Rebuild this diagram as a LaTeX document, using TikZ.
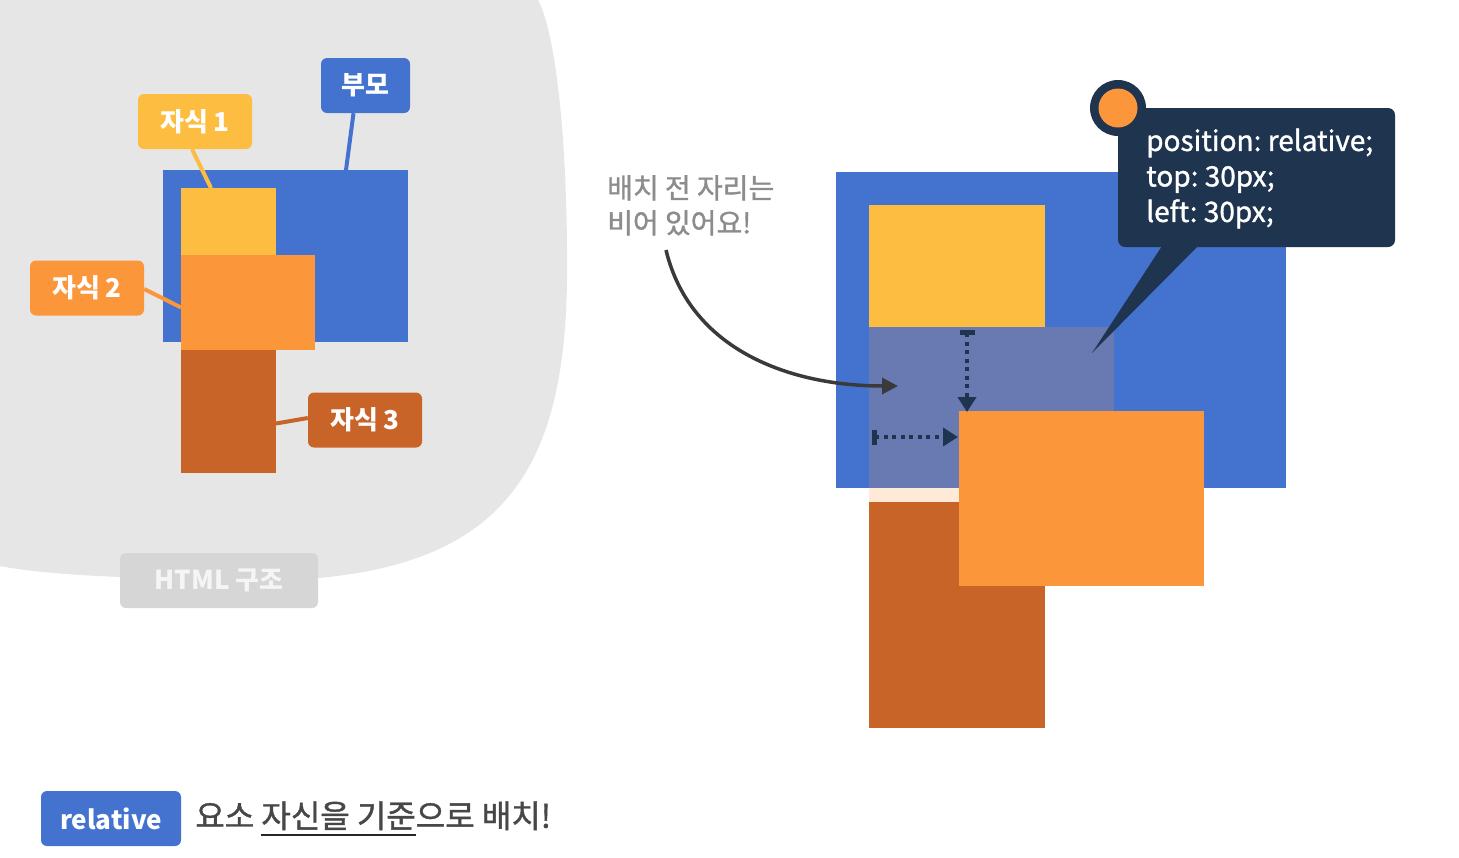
\documentclass[tikz,border=0pt]{standalone}
\usepackage{fontspec}
\setmainfont{Noto Sans CJK KR}
\newfontfamily\krmedium[FakeBold=1.2]{Noto Sans CJK KR}
\usetikzlibrary{positioning,arrows.meta}
\frenchspacing

\definecolor{parentblue}{HTML}{4473CF}
\definecolor{childone}{HTML}{FDBD40}
\definecolor{childtwo}{HTML}{FB963A}
\definecolor{childthree}{HTML}{C96428}
\definecolor{navy}{HTML}{1F344F}
\definecolor{blobgray}{HTML}{E6E6E6}
\definecolor{taggray}{HTML}{D6D6D6}
\definecolor{notegray}{HTML}{8C8C8C}
\definecolor{msggray}{HTML}{474747}
\definecolor{curvegray}{HTML}{3A3A3A}

\newcommand\ulinetext[1]{\setbox0\hbox{#1}\rlap{\color{black!85}\rule[-8pt]{\wd0}{1.5pt}}\box0}

\tikzset{
  rectbox/.style={inner sep=0pt, outer sep=0pt, anchor=north west},
  labeltag/.style={rounded corners=6pt, text=white, inner xsep=16pt, inner ysep=0pt,
    minimum height=55pt, font=\bfseries\fontsize{26}{30}\selectfont},
  leadline/.style={line width=4pt},
  offsetarrow/.style={navy, line width=4.5pt, dash pattern=on 4pt off 4.5pt,
    {Bar[width=15pt]}-{Triangle[length=15pt,width=18pt]}},
  notearrow/.style={curvegray, line width=3.5pt, -{Triangle[length=16pt,width=16pt]}},
}

\begin{document}
\begin{tikzpicture}[x=1pt, y=-1pt]
  \useasboundingbox (0,0) rectangle (1459,857);
  \fill[white] (0,0) rectangle (1459,857);

  \fill[blobgray] (0,0) -- (538,0) .. controls (552,25) and (566,110) .. (567,250)
    .. controls (570,450) and (520,560) .. (318,578)
    .. controls (200,581) and (60,578) .. (0,566) -- cycle;

  \node[rectbox, fill=parentblue, minimum width=245pt, minimum height=172pt] (parent) at (163,170) {};
  \node[rectbox, fill=childone, minimum width=95pt, minimum height=67pt,
    below right=18pt and 18pt of parent.north west] (c1) {};
  \node[rectbox, fill=childtwo, minimum width=134pt, minimum height=95pt,
    below=0pt of c1.south west, anchor=north west] (c2) {};
  \node[rectbox, fill=childthree, minimum width=95pt, minimum height=123pt,
    below=0pt of c2.south west, anchor=north west] (c3) {};

  \node[labeltag, fill=parentblue, minimum width=89pt] (tagp) at (365.5,85.5) {부모};
  \node[labeltag, fill=childone, minimum width=114pt] (tag1) at (195,121.5) {자식 1};
  \node[labeltag, fill=childtwo, minimum width=114pt] (tag2) at (87,288) {자식 2};
  \node[labeltag, fill=childthree, minimum width=114pt] (tag3) at (365,420) {자식 3};

  \draw[leadline, parentblue] ([xshift=-12pt]tagp.south) -- ([xshift=-62pt]parent.north east);
  \draw[leadline, childone] ([xshift=-3pt]tag1.south) -- ([xshift=30pt]c1.north west);
  \draw[leadline, childtwo] ([yshift=-1pt]tag2.east) -- ([yshift=-5pt]c2.west);
  \draw[leadline, childthree] ([yshift=-12pt]c3.east) -- ([yshift=2pt]tag3.west);

  \node[labeltag, fill=taggray, text=white!96!black, minimum width=198pt] (html) at (219,580.5) {HTML 구조};

  \node[rectbox, fill=parentblue, minimum width=450pt, minimum height=316pt] (parentr) at (836,172) {};
  \node[rectbox, fill=childone, minimum width=176pt, minimum height=122pt,
    below right=33pt and 33pt of parentr.north west] (c1r) {};
  \node[rectbox, fill=childtwo, fill opacity=0.2, minimum width=245pt, minimum height=175pt,
    below=0pt of c1r.south west, anchor=north west] (ghost) {};
  \node[rectbox, fill=childthree, minimum width=176pt, minimum height=226pt,
    below=0pt of ghost.south west, anchor=north west] (c3r) {};
  \node[rectbox, fill=childtwo, minimum width=245pt, minimum height=175pt,
    below right=84pt and 90pt of ghost.north west] (c2r) {};

  \coordinate (vbot) at ([xshift=8pt,yshift=-1pt]c2r.north west);
  \coordinate (vtop) at (vbot |- ghost.north);
  \coordinate (hright) at ([xshift=-1pt,yshift=-26pt]c2r.north west);
  \coordinate (hleft) at ([xshift=3pt]ghost.west |- hright);
  \draw[offsetarrow] ([yshift=-3pt]vtop) -- (vbot);
  \draw[offsetarrow] (hleft) -- (hright);

  \node[anchor=north west, inner sep=0pt, align=left, text=notegray,
    font=\krmedium\fontsize{28}{35}\selectfont] (note) at (607,175) {배치 전 자리는\\비어 있어요!};
  \coordinate (tail) at (666,250);
  \coordinate (head) at ([xshift=29pt,yshift=-59pt]ghost.north west);
  \draw[notearrow] (tail) .. controls (690,350) and (790,386) .. (head);

  \node[rectbox, fill=navy, rounded corners=7pt, minimum width=277pt, minimum height=139pt] (code) at (1118,108) {};
  \node[anchor=west, inner sep=0pt, align=left, text=white,
    font=\krmedium\fontsize{28}{35.5}\selectfont] (codetext) at ([xshift=28pt,yshift=-1pt]code.west)
    {position: relative;\\top: 30px;\\left: 30px;};
  \coordinate (tip) at ([xshift=-22pt,yshift=-26pt]ghost.north east);
  \fill[navy] ([xshift=44pt,yshift=1pt]code.south west) -- ([xshift=80pt,yshift=1pt]code.south west) -- (tip) -- cycle;
  \node[circle, fill=navy, inner sep=0pt, minimum size=56pt] (dot) at (code.north west) {};
  \node[circle, fill=childtwo, inner sep=0pt, minimum size=39pt] (dotin) at (dot) {};

  \node[labeltag, fill=parentblue, minimum width=140pt] (rel) at (111,818.5) {relative};
  \node[right=14pt of rel, inner sep=0pt, text=msggray, font=\krmedium\fontsize{32}{36}\selectfont] (msg)
    {요소 \ulinetext{자신을 기준}으로 배치!};
\end{tikzpicture}
\end{document}
